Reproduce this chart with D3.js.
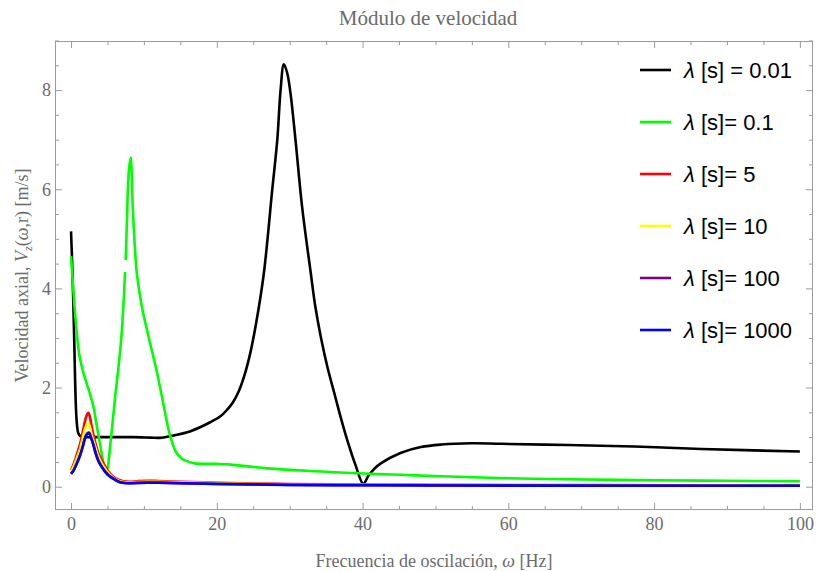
<!DOCTYPE html>
<html>
<head>
<meta charset="utf-8">
<script src="https://cdn.jsdelivr.net/npm/d3@7/dist/d3.min.js"></script>
<style>
  html, body { margin: 0; padding: 0; background: #fff; }
  svg { display: block; }
</style>
</head>
<body>
<svg id="chart" width="816" height="571"></svg>
<script>
// Axial velocity modulus vs. oscillation frequency, one curve per relaxation time λ.
// Each series: [frequency ω (Hz), |Vz| (m/s)]; null marks a break in the trace.
const lambda001 = [
  [0, 5.15], [0.2, 4.3], [0.4, 3.2], [0.55, 2.2], [0.7, 1.5], [0.85, 1.2], [1.0, 1.08],
  [1.3, 1.02], [1.8, 1.0], [3, 1.0], [6, 1.0], [8.6, 1.0], [10.9, 0.99], [12.2, 0.985],
  [13.6, 1.02], [16.4, 1.12], [19.1, 1.3], [20.5, 1.42], [21.4, 1.55], [22.2, 1.7],
  [23.0, 1.92], [23.8, 2.25], [24.6, 2.7], [25.4, 3.3], [26.45, 4.3], [27.6, 5.98], [28.3, 7.0],
  [28.75, 8.0], [29.2, 8.52], [29.65, 8.35], [30.1, 7.95], [30.8, 6.99], [31.7, 5.65],
  [32.9, 4.3], [33.5, 3.65], [34.3, 3.0], [35.2, 2.4], [36.1, 1.9], [37.0, 1.4], [37.9, 0.94],
  [39.0, 0.45], [40.1, 0.06], [40.8, 0.22], [41.6, 0.36], [42.5, 0.47], [45.2, 0.68], [48, 0.8],
  [50.8, 0.85], [54.9, 0.875], [59, 0.865], [68.2, 0.84], [77.3, 0.81], [86.5, 0.76], [100, 0.71]
];
const lambda01 = [
  [0, 4.65], [0.3, 4.0], [0.55, 3.5], [0.85, 3.0], [1.15, 2.65], [1.6, 2.35], [2.15, 2.08],
  [2.6, 1.87], [3.07, 1.62], [3.5, 1.25], [4.0, 0.84], [4.5, 0.45], [4.85, 0.29], [5.1, 0.45],
  [5.35, 0.8], [5.6, 1.14], [6.05, 1.81], [6.5, 2.4], [6.9, 3.0], [7.2, 3.7], [7.42, 4.33],
  null,
  [7.5, 4.57], [7.66, 5.31], [7.8, 6.0], [7.95, 6.4], [8.2, 6.64], [8.3, 6.4], [8.4, 5.9],
  [8.7, 4.97], [9.03, 4.3], [9.72, 3.63], [10.6, 3.05], [11.8, 2.3], [12.7, 1.65], [13.5, 1.08],
  [14.4, 0.7], [15.2, 0.57], [15.8, 0.52], [17, 0.47], [20, 0.46], [21.5, 0.45], [27, 0.37],
  [30, 0.34], [35, 0.3], [39.3, 0.27], [45.2, 0.24], [50.8, 0.21], [60, 0.17], [68.2, 0.15],
  [80, 0.13], [90, 0.12], [100, 0.11]
];
const lambda5 = [
  [0, 0.33], [0.32, 0.44], [0.8, 0.65], [1.24, 0.86], [1.6, 1.1], [1.93, 1.33], [2.2, 1.46],
  [2.38, 1.49], [2.6, 1.4], [2.85, 1.2], [3.07, 1.04], [3.4, 0.85], [3.75, 0.68], [4.2, 0.53],
  [4.68, 0.41], [5.2, 0.29], [5.8, 0.2], [6.5, 0.14], [7.2, 0.11], [8, 0.1], [9, 0.11],
  [10.5, 0.12], [12, 0.115], [15, 0.1], [20, 0.08], [25, 0.065], [30, 0.055], [40, 0.045],
  [50, 0.04], [60, 0.035], [80, 0.03], [100, 0.025]
];
const lambda10 = [
  [0, 0.31], [0.32, 0.4], [0.8, 0.58], [1.24, 0.76], [1.6, 0.98], [1.93, 1.17], [2.2, 1.26],
  [2.4, 1.28], [2.6, 1.2], [2.85, 1.03], [3.07, 0.93], [3.4, 0.77], [3.75, 0.61], [4.2, 0.47],
  [4.68, 0.36], [5.2, 0.26], [5.8, 0.18], [6.5, 0.12], [7.2, 0.095], [8, 0.09], [9, 0.095],
  [10.5, 0.1], [12, 0.1], [15, 0.09], [20, 0.07], [25, 0.055], [30, 0.045], [40, 0.04],
  [50, 0.035], [60, 0.03], [80, 0.025], [100, 0.02]
];
const lambda100 = [
  [0, 0.265], [0.32, 0.325], [0.8, 0.48], [1.24, 0.64], [1.6, 0.81], [1.93, 0.99], [2.2, 1.07],
  [2.48, 1.09], [2.7, 1.01], [3.07, 0.85], [3.4, 0.67], [3.75, 0.53], [4.2, 0.41], [4.68, 0.31],
  [5.2, 0.225], [5.8, 0.165], [6.5, 0.105], [7.2, 0.08], [8, 0.072], [9, 0.077], [10.5, 0.082],
  [12, 0.082], [15, 0.072], [20, 0.057], [25, 0.047], [30, 0.037], [40, 0.031], [50, 0.026],
  [60, 0.023], [80, 0.021], [100, 0.019]
];
const lambda1000 = [
  [0, 0.26], [0.32, 0.32], [0.8, 0.47], [1.24, 0.63], [1.6, 0.8], [1.93, 0.98], [2.2, 1.06],
  [2.48, 1.08], [2.7, 1.0], [3.07, 0.84], [3.4, 0.66], [3.75, 0.52], [4.2, 0.4], [4.68, 0.3],
  [5.2, 0.22], [5.8, 0.16], [6.5, 0.1], [7.2, 0.075], [8, 0.07], [9, 0.075], [10.5, 0.08],
  [12, 0.08], [15, 0.07], [20, 0.055], [25, 0.045], [30, 0.035], [40, 0.03], [50, 0.025],
  [60, 0.022], [80, 0.02], [100, 0.018]
];

const seriesLabels = ["λ [s] = 0.01", "λ [s]= 0.1", "λ [s]= 5", "λ [s]= 10", "λ [s]= 100", "λ [s]= 1000"];
const seriesColors = ["#000000", "#00ff00", "#ff0000", "#ffff00", "#800080", "#0000ff"];
const seriesData = [lambda001, lambda01, lambda5, lambda10, lambda100, lambda1000];

const xMajorTicks = [0, 20, 40, 60, 80, 100];
const yMajorTicks = [0, 2, 4, 6, 8];

const titleText = "Módulo de velocidad";

// Plot frame and scales
const frame = { left: 55, right: 813, top: 41, bottom: 510 };
const x = d3.scaleLinear().domain([-2.2, 101.8]).range([frame.left, frame.right]);
const y = d3.scaleLinear().domain([-0.47, 8.99]).range([frame.bottom, frame.top]);

const svg = d3.select("#chart");
const frameColor = "#9b9b9b";
const textColor = "#6b6b6b";
const serif = "'Liberation Serif', 'Times New Roman', serif";

const xMinor = d3.range(0, 100.1, 5).filter(v => v % 20 !== 0);
const yMinor = d3.range(0, 9.01, 0.5).filter(v => v % 2 !== 0);

function styleAxis(g) {
  g.select(".domain").remove();
  g.selectAll(".tick line").attr("stroke", frameColor);
  g.selectAll(".tick text").attr("fill", textColor).attr("font-family", serif).attr("font-size", 18);
}

// Bottom axis (labelled) with inward ticks
svg.append("g").attr("transform", `translate(0,${frame.bottom})`)
  .call(d3.axisBottom(x).tickValues(xMajorTicks).tickSize(-7).tickPadding(7).tickFormat(d3.format("d")))
  .call(styleAxis);
svg.append("g").attr("transform", `translate(0,${frame.bottom})`)
  .call(d3.axisBottom(x).tickValues(xMinor).tickSize(-4).tickFormat(""))
  .call(styleAxis);
// Top axis (ticks only)
svg.append("g").attr("transform", `translate(0,${frame.top})`)
  .call(d3.axisTop(x).tickValues(xMajorTicks).tickSize(-7).tickFormat(""))
  .call(styleAxis);
svg.append("g").attr("transform", `translate(0,${frame.top})`)
  .call(d3.axisTop(x).tickValues(xMinor).tickSize(-4).tickFormat(""))
  .call(styleAxis);
// Left axis (labelled)
svg.append("g").attr("transform", `translate(${frame.left},0)`)
  .call(d3.axisLeft(y).tickValues(yMajorTicks).tickSize(-7).tickPadding(4).tickFormat(d3.format("d")))
  .call(styleAxis);
svg.append("g").attr("transform", `translate(${frame.left},0)`)
  .call(d3.axisLeft(y).tickValues(yMinor).tickSize(-4).tickFormat(""))
  .call(styleAxis);
// Right axis (ticks only)
svg.append("g").attr("transform", `translate(${frame.right},0)`)
  .call(d3.axisRight(y).tickValues(yMajorTicks).tickSize(-7).tickFormat(""))
  .call(styleAxis);
svg.append("g").attr("transform", `translate(${frame.right},0)`)
  .call(d3.axisRight(y).tickValues(yMinor).tickSize(-4).tickFormat(""))
  .call(styleAxis);

// Frame
svg.append("rect")
  .attr("x", frame.left + 0.5).attr("y", frame.top + 0.5)
  .attr("width", frame.right - frame.left - 1).attr("height", frame.bottom - frame.top - 1)
  .attr("fill", "none").attr("stroke", frameColor).attr("stroke-width", 1);

// Curves
svg.append("defs").append("clipPath").attr("id", "plot-clip")
  .append("rect").attr("x", frame.left).attr("y", frame.top)
  .attr("width", frame.right - frame.left).attr("height", frame.bottom - frame.top);

const line = d3.line()
  .defined(d => d !== null)
  .x(d => x(d[0]))
  .y(d => y(d[1]))
  .curve(d3.curveCatmullRom.alpha(0.5));

const curves = svg.append("g").attr("clip-path", "url(#plot-clip)");
seriesData.forEach((data, i) => {
  curves.append("path")
    .datum(data)
    .attr("d", line)
    .attr("fill", "none")
    .attr("stroke", seriesColors[i])
    .attr("stroke-width", 2.6)
    .attr("stroke-linejoin", "round")
    .attr("stroke-linecap", "butt");
});

// Legend
const legend = svg.append("g").attr("transform", "translate(640,70)");
seriesLabels.forEach((label, i) => {
  const row = legend.append("g").attr("transform", `translate(0,${i * 52})`);
  row.append("line").attr("x1", 0).attr("x2", 31).attr("y1", 0).attr("y2", 0)
    .attr("stroke", seriesColors[i]).attr("stroke-width", 2.6);
  const t = row.append("text").attr("x", 44).attr("y", 8)
    .attr("font-family", "'Liberation Sans', Arial, sans-serif")
    .attr("font-size", 22).attr("fill", "#000");
  t.append("tspan").attr("font-style", "italic").text(label.slice(0, 1));
  t.append("tspan").text(label.slice(1));
});

// Title
svg.append("text")
  .attr("x", 428).attr("y", 25)
  .attr("text-anchor", "middle")
  .attr("font-family", serif).attr("font-size", 21)
  .attr("fill", textColor)
  .text(titleText);

// X axis title
const xTitle = svg.append("text")
  .attr("x", 434).attr("y", 567)
  .attr("text-anchor", "middle")
  .attr("font-family", serif).attr("font-size", 18)
  .attr("fill", textColor);
xTitle.append("tspan").text("Frecuencia de oscilación, ");
xTitle.append("tspan").attr("font-style", "italic").text("ω");
xTitle.append("tspan").text(" [Hz]");

// Y axis title
const yTitle = svg.append("text")
  .attr("transform", `translate(28,${(frame.top + frame.bottom) / 2}) rotate(-90)`)
  .attr("text-anchor", "middle")
  .attr("font-family", serif).attr("font-size", 18)
  .attr("fill", textColor);
yTitle.append("tspan").text("Velocidad axial, ");
yTitle.append("tspan").attr("font-style", "italic").text("V");
yTitle.append("tspan").attr("font-style", "italic").attr("font-size", 12).attr("dy", 4).text("z");
yTitle.append("tspan").attr("dy", -4).text("(");
yTitle.append("tspan").attr("font-style", "italic").text("ω");
yTitle.append("tspan").text(",r) [m/s]");
</script>
</body>
</html>
